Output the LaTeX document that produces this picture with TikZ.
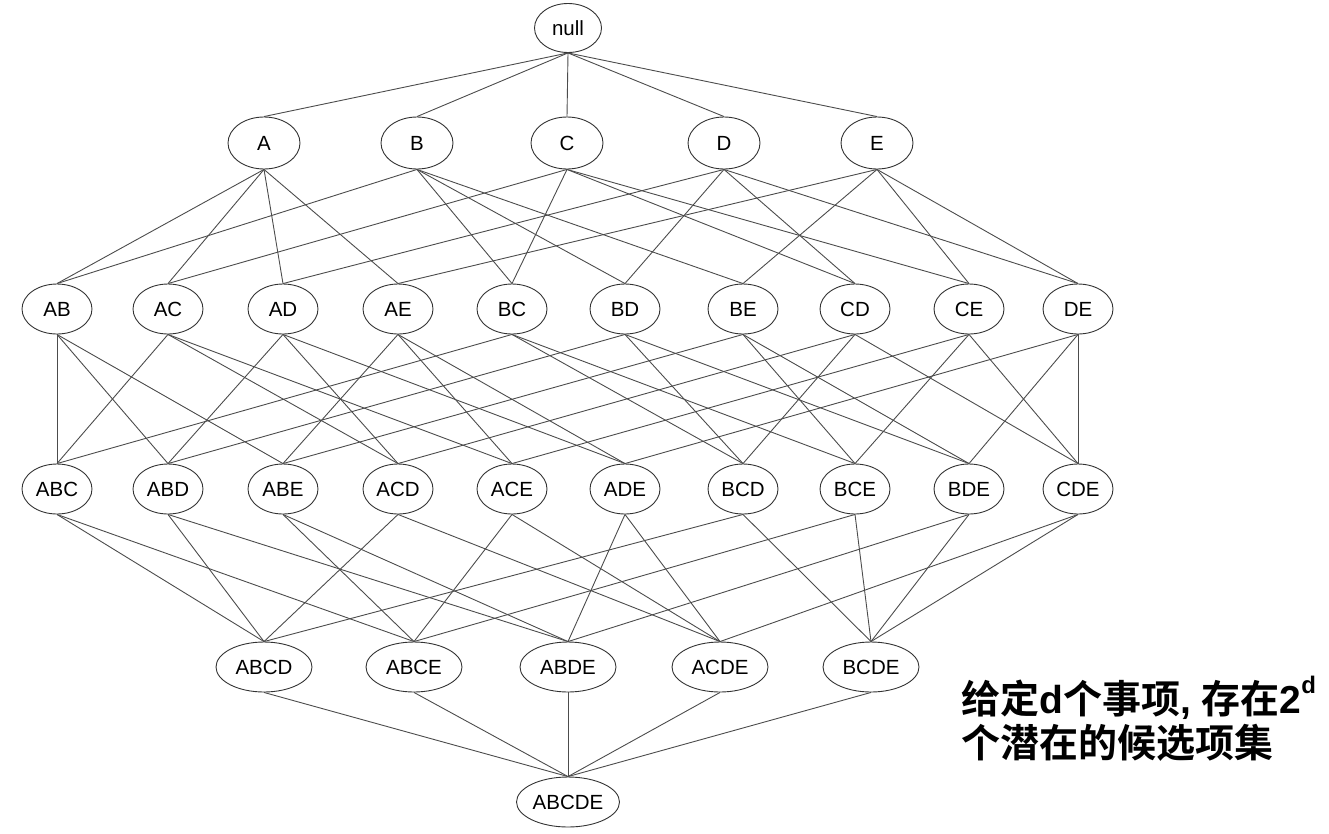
\documentclass[tikz,border=0pt]{standalone}
\usepackage{fontspec}
\setmainfont{Liberation Sans}[BoldFont={Liberation Sans Bold}]
\newfontfamily\cjk{Noto Sans CJK SC Bold}
\usetikzlibrary{shapes.geometric}
\begin{document}
\begin{tikzpicture}[x=1pt,y=-1pt,
  set/.style={ellipse,draw=black!80,line width=0.9pt,inner sep=0pt,
    font=\fontsize{20.5}{23}\selectfont,minimum height=50pt},
  s0/.style={set,minimum width=67pt,minimum height=49pt},
  s1/.style={set,minimum width=72pt,minimum height=52pt},
  s2/.style={set,minimum width=70pt},
  s4/.style={set,minimum width=96pt},
  s5/.style={set,minimum width=103pt},
  link/.style={draw=black!70,line width=0.9pt},
  note/.style={anchor=base west,inner sep=0pt,font=\fontsize{39}{44}\selectfont}]
\path[use as bounding box] (0,0) rectangle (1329,833);
% level 0
\node[s0] (null) at (568,28) {null};
% level 1
\foreach \n/\x in {A/264,B/417,C/567,D/724,E/877}
  \node[s1] (\n) at (\x,143) {\n};
% level 2
\foreach \n/\x in {AB/57,AC/168,AD/283,AE/398,BC/512,BD/625,BE/743,CD/855,CE/969,DE/1078}
  \node[s2] (\n) at (\x,309) {\n};
% level 3
\foreach \n/\x in {ABC/57,ABD/168,ABE/283,ACD/398,ACE/512,ADE/625,BCD/743,BCE/855,BDE/969,CDE/1078}
  \node[s2] (\n) at (\x,489) {\n};
% level 4
\foreach \n/\x in {ABCD/264,ABCE/414,ABDE/568,ACDE/720,BCDE/871}
  \node[s4] (\n) at (\x,667) {\n};
% level 5
\node[s5] (ABCDE) at (568,802) {ABCDE};
% edges
\foreach \u/\v in {null/A,null/B,null/C,null/D,null/E,
  A/AB,A/AC,A/AD,A/AE,B/AB,B/BC,B/BD,B/BE,C/AC,C/BC,C/CD,C/CE,
  D/AD,D/BD,D/CD,D/DE,E/AE,E/BE,E/CE,E/DE,
  AB/ABC,AC/ABC,BC/ABC,AB/ABD,AD/ABD,BD/ABD,AB/ABE,AE/ABE,BE/ABE,
  AC/ACD,AD/ACD,CD/ACD,AC/ACE,AE/ACE,CE/ACE,AD/ADE,AE/ADE,DE/ADE,
  BC/BCD,BD/BCD,CD/BCD,BC/BCE,BE/BCE,CE/BCE,BD/BDE,BE/BDE,DE/BDE,
  CD/CDE,CE/CDE,DE/CDE,
  ABC/ABCD,ABD/ABCD,ACD/ABCD,BCD/ABCD,ABC/ABCE,ABE/ABCE,ACE/ABCE,BCE/ABCE,
  ABD/ABDE,ABE/ABDE,ADE/ABDE,BDE/ABDE,ACD/ACDE,ACE/ACDE,ADE/ACDE,CDE/ACDE,
  BCD/BCDE,BCE/BCDE,BDE/BCDE,CDE/BCDE,
  ABCD/ABCDE,ABCE/ABCDE,ABDE/ABCDE,ACDE/ABCDE,BCDE/ABCDE}
  \draw[link] (\u.south) -- (\v.north);
% note
\node[note] (tx1) at (961,713) {{\cjk 给定}\textbf{d}{\cjk 个事项}\textbf{, }{\cjk 存在}\textbf{2\raisebox{0.5em}{\fontsize{24}{24}\selectfont d}}};
\node[note] (tx2) at (961,757) {\cjk 个潜在的候选项集};
\end{tikzpicture}
\end{document}
